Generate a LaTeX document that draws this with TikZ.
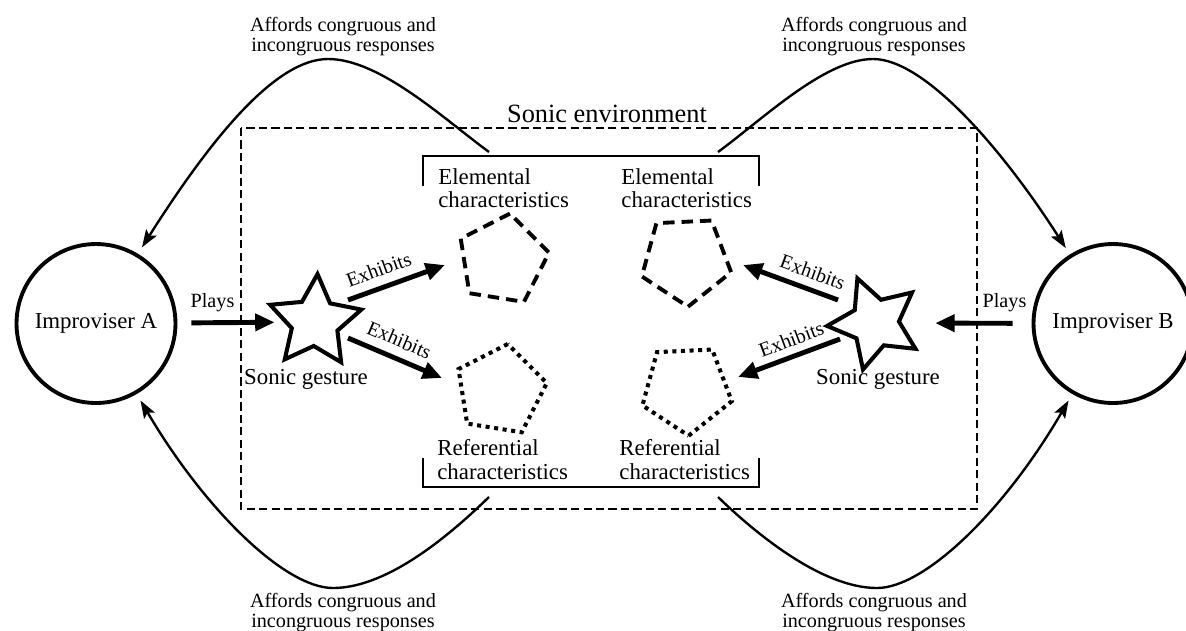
\documentclass[tikz,border=0pt]{standalone}
\usepackage{fontspec}
\setmainfont{Liberation Serif}
\usetikzlibrary{arrows.meta,shapes.geometric}
\begin{document}
\begin{tikzpicture}[x=0.02cm,y=-0.02cm,
  improv/.style={shape=circle, draw, line width=2.2pt, minimum size=3.18cm, inner sep=0pt, font=\fontsize{13}{13.5}\selectfont},
  gesture/.style={shape=star, star points=5, star point ratio=2.0, draw, line width=2.3pt, minimum size=1.92cm, inner sep=0pt, line join=miter},
  elempent/.style={shape=regular polygon, regular polygon sides=5, draw, line width=2.2pt, minimum size=1.88cm, inner sep=0pt, dash pattern=on 6.5pt off 4pt},
  refpent/.style={shape=regular polygon, regular polygon sides=5, draw, line width=2.3pt, minimum size=1.88cm, inner sep=0pt, dash pattern=on 2.3pt off 2.6pt},
  bigarrow/.style={line width=2.8pt, -{Triangle[length=11pt,width=9.5pt]}},
  bigarrowrev/.style={line width=2.8pt, {Triangle[length=11pt,width=9.5pt]}-},
  afford/.style={line width=1.35pt, -{Stealth[length=10pt,width=7pt,inset=2pt]}, shorten >=0.15cm},
  lbl/.style={font=\fontsize{13}{13.3}\selectfont, inner sep=0pt},
  small/.style={font=\fontsize{11.5}{11.5}\selectfont, inner sep=0pt},
  envbox/.style={line width=1.15pt, dash pattern=on 4.6pt off 2.5pt},
  bracket/.style={line width=0.9pt}
]
\useasboundingbox (0,0) rectangle (1186,630);
\clip (0,0) rectangle (1186,630);

% environment box and title
\draw[envbox] (241,128) rectangle (977,509);
\node[font=\fontsize{15}{15}\selectfont, anchor=base, inner sep=0pt] (env) at (607,122) {Sonic environment};

% improvisers
\node[improv] (A) at (96,323.5) {Improviser A};
\node[improv] (B) at (1113,323.5) {Improviser B};

% sonic gestures
\node[gesture, shape border rotate=-3] (LS) at (315,322) {};
\node[gesture, shape border rotate=21.5] (RS) at (875,323) {};
\node[lbl, anchor=base] (sg1) at (306,384) {Sonic gesture};
\node[lbl, anchor=base] (sg2) at (878,384) {Sonic gesture};

% characteristics
\node[elempent, shape border rotate=-9] (P1) at (502.6,260) {};
\node[elempent, shape border rotate=182.7] (P2) at (685.8,259.8) {};
\node[refpent, shape border rotate=-9] (P3) at (500.4,390.4) {};
\node[refpent, shape border rotate=182.7] (P4) at (686.4,388.8) {};

\node[lbl, anchor=north west, align=left] (el1) at (438,168.3) {Elemental\\characteristics};
\node[lbl, anchor=north west, align=left] (el2) at (621,168.3) {Elemental\\characteristics};
\node[lbl, anchor=north west, align=left] (rf1) at (437,439.3) {Referential\\characteristics};
\node[lbl, anchor=north west, align=left] (rf2) at (619,439.3) {Referential\\characteristics};

% brackets
\draw[bracket] (423,186) -- (423,156) -- (759,156) -- (759,186);
\draw[bracket] (423,458) -- (423,487) -- (759,487) -- (759,458);

% plays
\node[small, anchor=base] (pl1) at (212.5,307) {Plays};
\node[small, anchor=base] (pl2) at (1004.5,307) {Plays};
\draw[bigarrow, shorten <=0.28cm, shorten >=0.18cm] (A) -- (LS);
\draw[bigarrow, shorten <=0.38cm, shorten >=0.66cm] (B) -- (RS);

% exhibits
\coordinate (e1s) at (348,300);
\coordinate (e1t) at (445,265);
\coordinate (e2s) at (348,338);
\coordinate (e2t) at (442,378);
\coordinate (e3s) at (838,300);
\coordinate (e3t) at (743,265);
\coordinate (e4s) at (840,339);
\coordinate (e4t) at (738,377);
\draw[bigarrow] (e1s) -- node[small, sloped, above, pos=0.38, inner sep=5pt] {Exhibits} (e1t);
\draw[bigarrow] (e2s) -- node[small, sloped, above, pos=0.47, inner sep=5pt] {Exhibits} (e2t);
\draw[bigarrowrev] (e3t) -- node[small, sloped, above, pos=0.67, inner sep=4.5pt] {Exhibits} (e3s);
\draw[bigarrowrev] (e4t) -- node[small, sloped, above, pos=0.58, inner sep=4pt] {Exhibits} (e4s);

% affordance curves
\coordinate (ctl) at (489,152);
\coordinate (ctr) at (718,152);
\coordinate (cbl) at (489,497);
\coordinate (cbr) at (718,497);
\draw[afford] (ctl) .. controls (444,119) and (380,59) .. (328,59) .. controls (275,59) and (210,140) .. (A.59);
\draw[afford] (ctr) .. controls (763,119) and (825,59) .. (873,59) .. controls (925,59) and (1003,150) .. (B.122);
\draw[afford] (cbl) .. controls (455,530) and (390,588) .. (333,588) .. controls (285,588) and (205,510) .. (A.-60);
\draw[afford] (cbr) .. controls (752,530) and (820,588) .. (877,588) .. controls (925,588) and (1005,510) .. (B.240);

\node[small, anchor=north, align=center] (t1) at (343,17) {Affords congruous and\\incongruous responses};
\node[small, anchor=north, align=center] (t2) at (874,17) {Affords congruous and\\incongruous responses};
\node[small, anchor=north, align=center] (t3) at (343,593) {Affords congruous and\\incongruous responses};
\node[small, anchor=north, align=center] (t4) at (874,593) {Affords congruous and\\incongruous responses};
\end{tikzpicture}
\end{document}
